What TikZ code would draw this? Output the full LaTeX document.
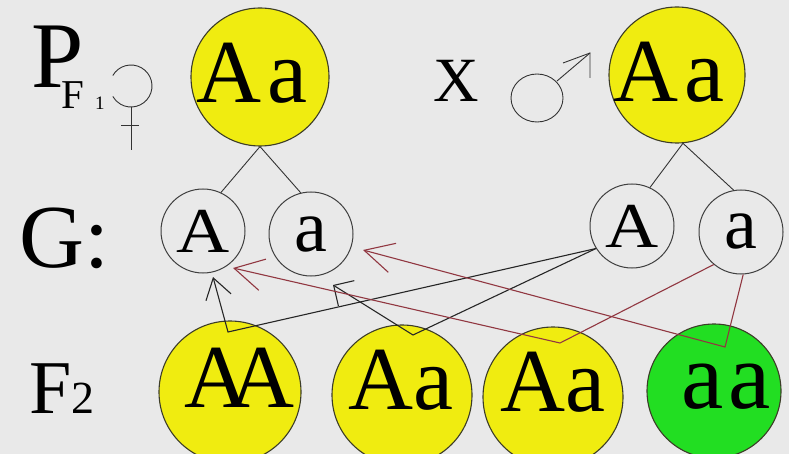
\documentclass[tikz,border=0pt]{standalone}
\usepackage{fontspec}
\setmainfont{Liberation Serif}
\usetikzlibrary{arrows.meta}
\definecolor{bg}{RGB}{233,233,233}
\definecolor{yel}{RGB}{240,236,16}
\definecolor{grn}{RGB}{34,222,34}
\definecolor{dred}{RGB}{145,55,65}
\definecolor{rim}{RGB}{60,60,40}
\newcommand{\fsz}[1]{\fontsize{#1}{#1}\selectfont}
\begin{document}
\begin{tikzpicture}[x=1pt,y=-1pt,
  big/.style={circle, draw=rim, line width=1.1pt, inner sep=0pt},
  gam/.style={circle, draw=black!75, line width=1pt, minimum size=84pt, inner sep=0pt},
  txt/.style={inner sep=0pt},
  lbl/.style={inner sep=0pt, anchor=base west},
  tree/.style={line width=0.9pt, black!80},
  link/.style={line width=1.1pt, black!85, line join=miter},
  rlink/.style={line width=1.1pt, dred, line join=miter},
  sym/.style={line width=0.9pt, black!80}]
\fill[bg] (0,0) rectangle (789,454);
\useasboundingbox (0,0) rectangle (789,454);

% parents
\node[big, fill=yel, minimum size=138pt] (P1) at (260,77) {};
\node[big, fill=yel, minimum size=136pt] (P2) at (677,75) {};

% gametes
\node[gam, font=\fsz{64}] (fA) at (203,231) {\scalebox{1.15}[1]{A}};
\node[gam, font=\fsz{74}] (fa) at (311,234) {a};
\node[gam, font=\fsz{64}] (mA) at (632,226) {\scalebox{1.15}[1]{A}};
\node[gam, font=\fsz{74}] (ma) at (741,232) {a};

% F2 circles
\node[big, fill=yel, minimum size=142pt] (gAA) at (230,392) {};
\node[big, fill=yel, minimum size=140pt] (gAa1) at (402,395) {};
\node[big, fill=yel, minimum size=140pt] (gAa2) at (553,397) {};
\node[big, fill=grn, minimum size=134pt] (gaa) at (714,391) {};

% parent to gametes
\draw[tree] (P1.south) -- (fA.65);
\draw[tree] (P1.south) -- (fa.104);
\draw[tree] (P2.-85) -- (mA.65);
\draw[tree] (P2.-85) -- (ma.100);

% connectors
\coordinate (vAA) at (228,332);
\coordinate (vAa1) at (413,335);
\coordinate (vAa2) at (560,343);
\coordinate (vaa) at (725,347);
\coordinate (tAA) at (213,277);
\coordinate (tAa1) at (333,285);
\coordinate (tAa2) at (233,268);
\coordinate (taa) at (363,250);

\draw[link, {Straight Barb[length=20pt,width=26pt]}-] (tAA) -- (vAA) -- (mA.-148);
\draw[link, {Straight Barb[length=15pt,width=30pt]}-] (tAa1) -- (vAa1) -- (mA.-148);
\draw[rlink, {Straight Barb[length=29pt,width=32pt]}-] (tAa2) -- (vAa2) -- (ma.-130);
\draw[rlink, {Straight Barb[length=29pt,width=30pt]}-] (taa) -- (vaa) -- (ma.-87);

% texts in circles
\node[txt, font=\fsz{90}] (tP1) at (252,73) {A\kern6pt a};
\node[txt, font=\fsz{90}] (tP2) at (669,72) {A\kern6pt a};
\node[txt, font=\fsz{90}] (tAA) at (239,378) {A\kern-20pt A};
\node[txt, font=\fsz{90}] (tAa1) at (401,380) {Aa};
\node[txt, font=\fsz{90}] (tAa2) at (553,382) {Aa};
\node[txt, font=\fsz{95}] (taa) at (726,387) {a\kern5pt a};

% row labels
\node[lbl, font=\fsz{94}] (lP) at (31,88) {P};
\node[lbl, font=\fsz{41}] (lF) at (61,109) {F};
\node[lbl, font=\fsz{19}] (l1) at (95,110) {1};
\node[lbl, font=\fsz{63}] (lX) at (433,102) {X};
\node[lbl, font=\fsz{90}] (lG) at (19,267) {G:};
\node[lbl, font=\fsz{76}] (lF2) at (29,413) {F\fsz{46}2};

% female symbol
\begin{scope}[shift={(131,86)}, x=1pt, y=1pt]
  \draw[sym] (150:21) arc[start angle=150, end angle=-150, radius=21];
  \draw[sym] (0,-21) -- (0,-64);
  \draw[sym] (-10,-39) -- (8,-39);
\end{scope}

% male symbol
\draw[sym] (537,98) ellipse[x radius=26, y radius=24];
\draw[sym] (557,81) -- (590,53);
\draw[sym] (563,63) -- (590,53) -- (590,78);
\end{tikzpicture}
\end{document}
